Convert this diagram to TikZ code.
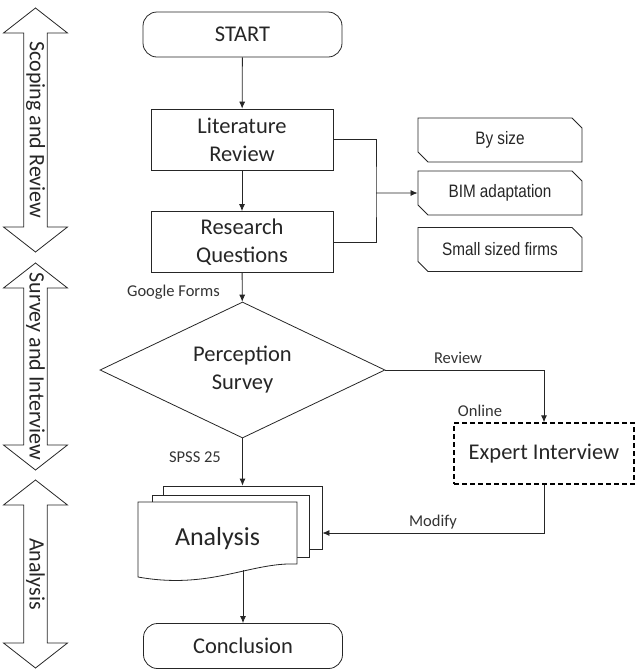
\documentclass[tikz,border=0pt]{standalone}
\usepackage{fontspec}
\setmainfont{Carlito}
\newfontfamily\narrowfont[FakeStretch=0.85]{Liberation Sans}
\usetikzlibrary{arrows.meta, shapes.geometric, shapes.misc, shapes.arrows, positioning}

\tikzset{
  line/.style={draw=black!85, line width=0.8pt},
  arrow/.style={line, -{Latex[length=7pt,width=6pt]}},
  process/.style={rectangle, draw=black!85, line width=0.8pt, minimum width=182pt, minimum height=61pt, inner sep=0pt, align=center, text=black!85, font=\fontsize{22.5}{28}\selectfont},
  terminal/.style={rectangle, rounded corners=14pt, draw=black!85, line width=0.8pt, minimum width=199pt, minimum height=45pt, inner sep=0pt, text=black!85, font=\fontsize{22.5}{28}\selectfont},
  decision/.style={diamond, draw=black!85, line width=0.8pt, aspect=2.1, minimum width=285pt, minimum height=136pt, inner sep=0pt, align=center, text=black!85, font=\fontsize{22.5}{28}\selectfont},
  tag/.style={chamfered rectangle, chamfered rectangle corners={north east,south west}, chamfered rectangle xsep=5pt, chamfered rectangle ysep=5pt, draw=black!85, line width=0.8pt, minimum width=164pt, minimum height=44pt, inner sep=0pt, text=black!85, font=\narrowfont\fontsize{18}{20}\selectfont},
  remote/.style={rectangle, draw=black, dash pattern=on 5pt off 3pt, line width=1.3pt, minimum width=180pt, minimum height=61pt, inner sep=0pt, text=black!85, font=\fontsize{22.5}{28}\selectfont},
  sheet/.style={rectangle, draw=black!85, fill=white, line width=0.8pt, inner sep=0pt},
  phase/.style={double arrow, draw=black!85, line width=0.8pt, rotate=-90, minimum width=64pt, double arrow head extend=17pt, double arrow tip angle=104, inner sep=0pt, text=black!85, font=\fontsize{22}{22}\selectfont},
  note/.style={inner sep=0pt, text=black!80, font=\fontsize{16.5}{18}\selectfont},
}

\begin{document}
\begin{tikzpicture}[x=1pt, y=-1pt]
\useasboundingbox (0,0) rectangle (636,670);

% phases on the left
\node[phase, minimum height=244pt] (scoping) at (35.5,130) {\makebox[0pt]{Scoping and Review}};
\node[phase, minimum height=207pt] (surveying) at (35.5,366.5) {\makebox[0pt]{Survey and Interview}};
\node[phase, minimum height=188pt] (analysing) at (35.5,574) {\makebox[0pt]{Analysis}};

% main flow
\node[terminal] (start) at (242.5,34.5) {START};
\node[process] (lit) at (242,139.5) {Literature\\Review};
\node[process] (rq) at (242,242) {Research\\Questions};
\node[decision] (survey) at (242.5,370) {Perception\\Survey};
\node[remote] (expert) at (544,453.5) {Expert Interview};

% scope tags
\node[tag] (bysize) at (500,140) {By size};
\node[tag] (bim) at (500,193) {BIM adaptation};
\node[tag] (small) at (500,249.5) {Small sized firms};
\coordinate (join) at (376,193);

% analysis stack
\node[sheet, minimum width=159pt, minimum height=63pt] (sheet3) at (242.5,517.5) {};
\node[sheet, minimum width=157pt, minimum height=62pt] (sheet2) at (230.5,526) {};
\draw[line, fill=white] (138,502) -- (297,502) -- (297,564)
  .. controls (250,562) and (210,590) .. (138,577) -- cycle;
\node[text=black!85, font=\fontsize{26}{30}\selectfont] (analysis) at (217.5,539) {Analysis};
\coordinate (docbot) at (243,570);

\node[terminal] (end) at (243,646) {Conclusion};

% labels
\node[note] (forms) at (173.5,292) {Google Forms};
\node[note] (spss) at (195,457) {SPSS 25};
\node[note] (review) at (458,358) {Review};
\node[note] (online) at (480,411) {Online};
\node[note] (modify) at (433,522) {Modify};

% connectors
\draw[arrow] (start) -- (lit);
\draw[arrow] (lit) -- (rq);
\draw[line] (lit.east) -| (join) |- (rq.east);
\draw[arrow] (join) -- (bim);
\draw[arrow] (rq) -- (survey);
\draw[arrow] (survey.east) -| (expert.north);
\draw[arrow] (survey.south) -- (sheet3.north);
\draw[arrow] (expert.south) |- ([yshift=-15.5pt]sheet3.east);
\draw[arrow] (docbot) -- (end);
\end{tikzpicture}
\end{document}
